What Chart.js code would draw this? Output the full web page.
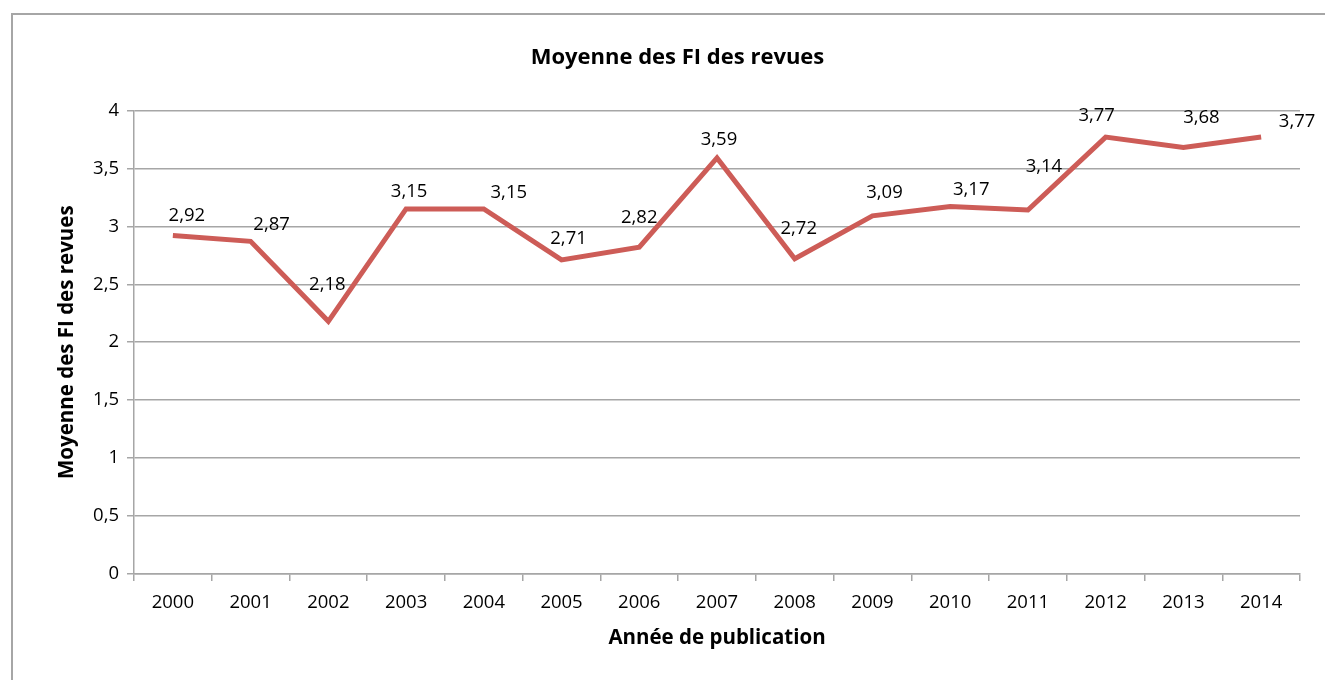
<!DOCTYPE html>
<html>
<head>
<meta charset="utf-8">
<script src="https://cdn.jsdelivr.net/npm/chart.js@4"></script>
<style>
  html, body { margin: 0; padding: 0; background: #fff; overflow: hidden; }
  #cadre { position: absolute; left: 11px; top: 13px; width: 1400px; height: 800px; border: 2px solid #a6a6a6; }
  #wrap { position: absolute; left: 0; top: 0; width: 1325px; height: 680px; }
</style>
</head>
<body>
<div id="cadre"></div>
<div id="wrap"><canvas id="graphique"></canvas></div>
<script>
// données
const annees = ['2000', '2001', '2002', '2003', '2004', '2005', '2006', '2007', '2008', '2009', '2010', '2011', '2012', '2013', '2014'];
const moyennesFI = [2.92, 2.87, 2.18, 3.15, 3.15, 2.71, 2.82, 3.59, 2.72, 3.09, 3.17, 3.14, 3.77, 3.68, 3.77];

// décalage des étiquettes (px) par rapport au point
const decalages = [[14, -20], [21, -17], [-1, -37], [3, -17], [25, -16], [7, -21], [0, -29], [2, -18],
  [4, -30], [12, -23], [21, -17], [16, -43], [-9, -21], [18, -30], [36, -15]];

const gris = '#a6a6a6';
const police = 'Open Sans';
const virgule = v => String(v).replace('.', ',');

const etiquettes = {
  id: 'etiquettes',
  afterDatasetsDraw(chart) {
    const ctx = chart.ctx;
    const meta = chart.getDatasetMeta(0);
    ctx.save();
    ctx.font = `18.5px "${police}"`;
    ctx.fillStyle = '#000';
    ctx.textAlign = 'center';
    ctx.textBaseline = 'middle';
    meta.data.forEach((pt, i) => {
      const d = decalages[i] || [0, -20];
      ctx.fillText(virgule(moyennesFI[i]), pt.x + d[0], pt.y + d[1]);
    });
    ctx.restore();
  }
};

new Chart(document.getElementById('graphique'), {
  type: 'line',
  data: {
    labels: annees,
    datasets: [{
      label: 'Moyenne des FI des revues',
      data: moyennesFI,
      borderColor: '#cd5c57',
      borderWidth: 5,
      pointRadius: 0,
      tension: 0,
      fill: false
    }]
  },
  options: {
    responsive: true,
    maintainAspectRatio: false,
    animation: false,
    layout: { padding: { left: 55, right: 25, top: 45, bottom: 26 } },
    plugins: {
      legend: { display: false },
      tooltip: { enabled: false },
      title: {
        display: true,
        text: 'Moyenne des FI des revues',
        color: '#000',
        font: { family: police, size: 22, weight: 'bold' },
        padding: { top: 0, bottom: 39 }
      }
    },
    scales: {
      x: {
        offset: true,
        grid: { offset: true, drawOnChartArea: false, drawTicks: true, tickLength: 7, color: gris, lineWidth: 1.5 },
        border: { display: true, color: gris, width: 1.5 },
        ticks: { color: '#000', font: { family: police, size: 18.5 }, padding: 11, maxRotation: 0 },
        title: { display: true, text: 'Année de publication', color: '#000', font: { family: police, size: 20.5, weight: 'bold' }, padding: { top: 4, bottom: 4 } },
        afterFit: s => { s.height = 80; }
      },
      y: {
        min: 0,
        max: 4,
        grid: { color: gris, lineWidth: 1.5, tickLength: 7 },
        border: { display: true, color: gris, width: 1.5 },
        ticks: { stepSize: 0.5, color: '#000', font: { family: police, size: 18.5 }, padding: 8, callback: v => virgule(v) },
        title: { display: true, text: 'Moyenne des FI des revues', color: '#000', font: { family: police, size: 20.5, weight: 'bold' }, padding: 0 },
        afterFit: s => { s.width = 79; }
      }
    }
  },
  plugins: [etiquettes]
});
</script>
</body>
</html>
